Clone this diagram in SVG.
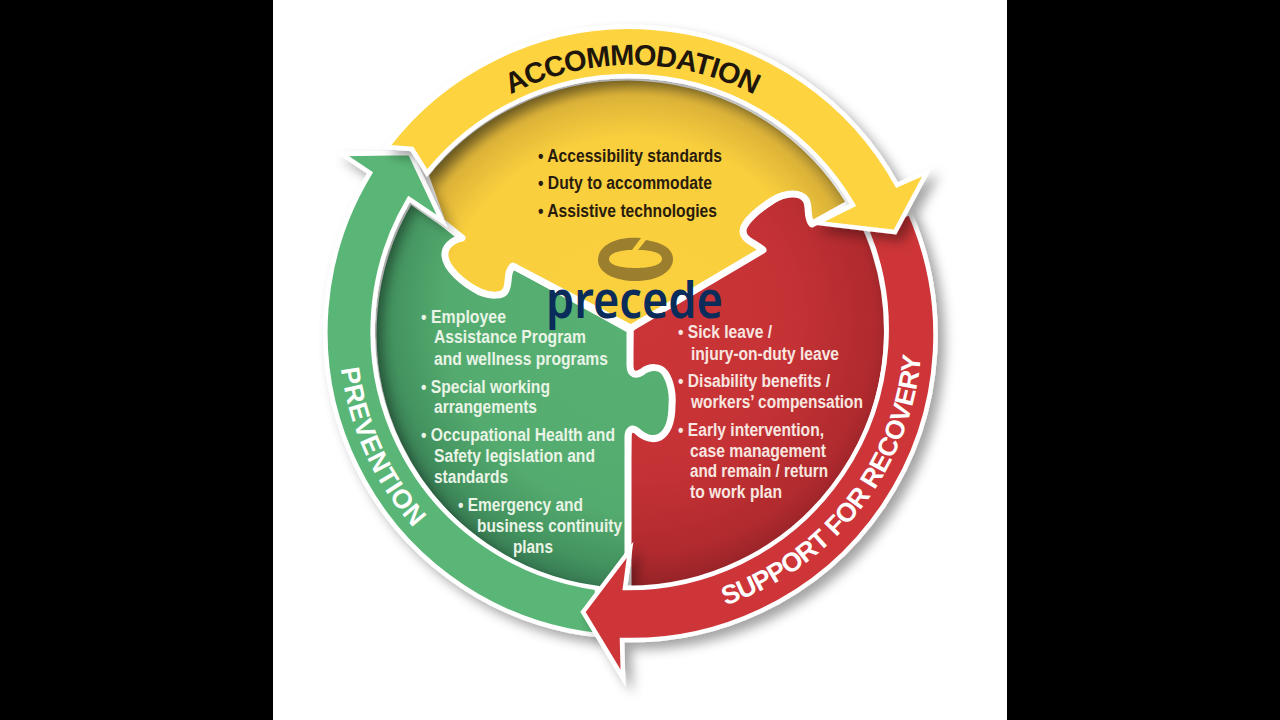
<svg xmlns="http://www.w3.org/2000/svg" width="1280" height="720" viewBox="0 0 1280 720">
<style>
.band{stroke:#fff;stroke-width:4.5;stroke-linejoin:miter;filter:url(#shadow)}
.piece{stroke:#fff;stroke-width:7;stroke-linejoin:round}
.arc{font-family:"Liberation Sans",Arial,sans-serif;font-weight:700;font-size:26.5px;fill:#fff}
.t{font-family:"Liberation Sans",Arial,sans-serif;font-weight:700;font-size:17.5px}
.dark{fill:#2a1c0c}
.g{fill:#e9f4e6}
.r{fill:#f8e6e0}
</style>
<defs>
<filter id="shadow" x="-20%" y="-20%" width="145%" height="145%">
<feDropShadow dx="7" dy="7" stdDeviation="6" flood-color="#000" flood-opacity="0.36"/>
</filter>
<radialGradient id="gy" gradientUnits="userSpaceOnUse" cx="632" cy="331" r="262">
<stop offset="0" stop-color="#fbd03e"/><stop offset="0.74" stop-color="#f9cf3e"/><stop offset="0.9" stop-color="#dcb238"/><stop offset="1" stop-color="#8f7a30"/>
</radialGradient>
<radialGradient id="gg" gradientUnits="userSpaceOnUse" cx="650" cy="310" r="300">
<stop offset="0" stop-color="#58b274"/><stop offset="0.68" stop-color="#54ab6f"/><stop offset="0.86" stop-color="#43935f"/><stop offset="1" stop-color="#2f6a4a"/>
</radialGradient>
<radialGradient id="gr" gradientUnits="userSpaceOnUse" cx="640" cy="320" r="275">
<stop offset="0" stop-color="#cc3537"/><stop offset="0.55" stop-color="#c53235"/><stop offset="0.85" stop-color="#b02a2e"/><stop offset="1" stop-color="#8f2126"/>
</radialGradient>
<path id="p-acc" d="M366,331 A266,266 0 0 1 898,331"/>
<path id="p-pre" d="M341,368.5 A296,296 0 0 0 632,627"/>
<path id="p-sup" d="M725.6,605.4 A290,290 0 0 0 922,331"/>
</defs>

<rect width="1280" height="720" fill="#000"/>
<rect x="273" y="0" width="734" height="720" fill="#fff"/>

<g id="piece-support">
<path class="piece" fill="url(#gr)" d="M630,330 L700,250 L795,185 L860,215 A259,259 0 0 1 625,590 Z"/>
</g>
<g id="piece-prevention">
<path class="piece" fill="url(#gg)" d="M630,330 L500,258 L442,222 L410,200 A259,259 0 0 0 597,590 L628,590 L628,437 C628,430 632,427 637,431 C643,437 652,441 660,437 C668,432 672,420 672,405 C673,395 671,382 665,373 C660,366 650,366 642,372 C636,376 630,375 630,365 Z"/>
</g>
<g id="piece-accommodation">
<path class="piece" fill="url(#gy)" d="M631,328 L763,250 C755,243 743,240 743,231 C743,222 760,208 773,200 C785,193 800,191 806,200 C810,206 806,218 812,224 L850,203 A259,259 0 0 0 425,175 L442,222 L462,238 C452,240 444,247 445,256 C446,268 462,283 480,292 C490,296 503,297 506,290 C510,282 506,272 513,266 Z"/>
</g>

<g id="connectors">
<path id="arrow-prevention" class="band" fill="#5ab676" d="M342,154 L410,153 L442,221 L409,199 A259,259 0 0 0 597,588 L597,635 A305,305 0 0 1 370,173 Z"/>
<path id="arrow-support" class="band" fill="#cd3537" d="M583,612 L630,550 L625,588 A259,259 0 0 0 867,230 L910,213 A305,305 0 0 1 622,640 L623,678 Z"/>
<path id="arrow-accommodation" class="band" fill="#fdd33f" d="M387,147 A305,305 0 0 1 897,185 L927,172 L895,232 L817,223 L853,205 A259,259 0 0 0 427,173 L412,149 Z"/>
</g>

<g id="band-labels">
<text class="arc" style="font-size:29px;letter-spacing:-1px;fill:#1e150b" text-anchor="middle"><textPath href="#p-acc" startOffset="50%">ACCOMMODATION</textPath></text>
<text class="arc" style="letter-spacing:0.6px"><textPath href="#p-pre">PREVENTION</textPath></text>
<text class="arc" style="letter-spacing:-0.6px"><textPath href="#p-sup">SUPPORT FOR RECOVERY</textPath></text>
</g>

<g id="logo">
<path fill="#9b7f2f" d="M641,238 C615,236 598,246 598,260 C598,273 615,281 636,281 C657,281 673,272 673,259 C673,250 665,243 646,240 L638,250 C655,250 662,254 662,259 C662,265 650,268 636,268 C620,268 609,265 609,259 C609,254 618,250 632,250 Z"/>
<text x="546" y="318" font-family="'Noto Sans',sans-serif" font-weight="600" font-size="50" fill="#0a2c5a" textLength="177" lengthAdjust="spacingAndGlyphs">precede</text>
</g>

<g id="text-accommodation">
<text class="t dark" x="538" y="162" textLength="184" lengthAdjust="spacingAndGlyphs">• Accessibility standards</text>
<text class="t dark" x="538" y="189" textLength="174" lengthAdjust="spacingAndGlyphs">• Duty to accommodate</text>
<text class="t dark" x="538" y="217" textLength="179" lengthAdjust="spacingAndGlyphs">• Assistive technologies</text>
</g>
<g id="text-prevention">
<text class="t g" x="421" y="323" textLength="85" lengthAdjust="spacingAndGlyphs">• Employee</text>
<text class="t g" x="434" y="343" textLength="152" lengthAdjust="spacingAndGlyphs">Assistance Program</text>
<text class="t g" x="434" y="365" textLength="174" lengthAdjust="spacingAndGlyphs">and wellness programs</text>
<text class="t g" x="421" y="393" textLength="129" lengthAdjust="spacingAndGlyphs">• Special working</text>
<text class="t g" x="434" y="413" textLength="103" lengthAdjust="spacingAndGlyphs">arrangements</text>
<text class="t g" x="421" y="441" textLength="194" lengthAdjust="spacingAndGlyphs">• Occupational Health and</text>
<text class="t g" x="434" y="462" textLength="161" lengthAdjust="spacingAndGlyphs">Safety legislation and</text>
<text class="t g" x="434" y="483" textLength="74" lengthAdjust="spacingAndGlyphs">standards</text>
<text class="t g" x="458" y="511" textLength="125" lengthAdjust="spacingAndGlyphs">• Emergency and</text>
<text class="t g" x="477" y="532" textLength="145" lengthAdjust="spacingAndGlyphs">business continuity</text>
<text class="t g" x="513" y="553" textLength="40" lengthAdjust="spacingAndGlyphs">plans</text>
</g>
<g id="text-support">
<text class="t r" x="678" y="338" textLength="94" lengthAdjust="spacingAndGlyphs">• Sick leave /</text>
<text class="t r" x="691" y="360" textLength="148" lengthAdjust="spacingAndGlyphs">injury-on-duty leave</text>
<text class="t r" x="678" y="387" textLength="152" lengthAdjust="spacingAndGlyphs">• Disability benefits /</text>
<text class="t r" x="691" y="408" textLength="172" lengthAdjust="spacingAndGlyphs">workers’ compensation</text>
<text class="t r" x="678" y="436" textLength="146" lengthAdjust="spacingAndGlyphs">• Early intervention,</text>
<text class="t r" x="690" y="457" textLength="136" lengthAdjust="spacingAndGlyphs">case management</text>
<text class="t r" x="690" y="477" textLength="138" lengthAdjust="spacingAndGlyphs">and remain / return</text>
<text class="t r" x="690" y="498" textLength="92" lengthAdjust="spacingAndGlyphs">to work plan</text>
</g>
</svg>
